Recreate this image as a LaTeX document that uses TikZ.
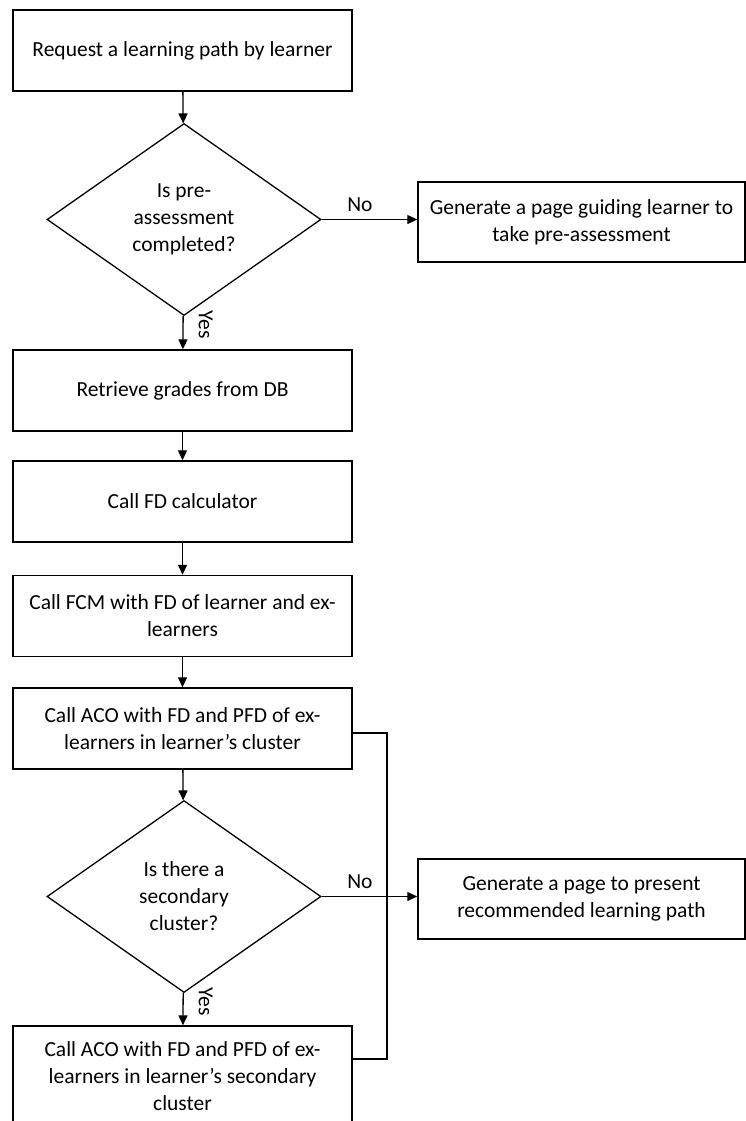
\documentclass[tikz,border=0pt]{standalone}
\usepackage{fontspec}
\setmainfont{Carlito}
\usetikzlibrary{shapes.geometric,arrows.meta}
\begin{document}
\begin{tikzpicture}[x=1pt,y=-1pt,
  txt/.style={font=\fontsize{21.5}{27}\selectfont},
  box/.style={txt,draw,line width=1.4pt,minimum width=339pt,minimum height=81pt,inner sep=0pt,align=center},
  sidebox/.style={box,minimum width=327pt,minimum height=80pt},
  decision/.style={txt,draw,diamond,line width=1.3pt,aspect=1.43,minimum width=274pt,minimum height=192pt,inner sep=0pt,align=center},
  flow/.style={line width=1.3pt,-{Triangle[length=10pt,width=9pt]}},
  plain/.style={line width=1.3pt},
  lbl/.style={txt,inner sep=0pt},
  yeslbl/.style={lbl,pos=0.27,xshift=15pt,rotate=-90,anchor=south}
]
\useasboundingbox (0,0) rectangle (746,1121);
\clip (0,0) rectangle (746,1121);

% main column
\node[box] (b1) at (182.5,50.5) {Request a learning path by learner};
\node[decision] (d1) at (184,219.5) {Is pre-\\assessment\\completed?};
\node[box] (b2) at (182.5,390.5) {Retrieve grades from DB};
\node[box] (b3) at (182.5,501.5) {Call FD calculator};
\node[box] (b4) at (182.5,616) {Call FCM with FD of learner and ex-\\learners};
\node[box] (b5) at (182.5,728.5) {Call ACO with FD and PFD of ex-\\learners in learner’s cluster};
\node[decision] (d2) at (184,896.5) {Is there a\\secondary\\cluster?};
\node[box,minimum height=100pt] (b6) at (182.5,1076) {Call ACO with FD and PFD of ex-\\learners in learner’s secondary\\cluster};

% side column
\node[sidebox] (r1) at (581.5,222) {Generate a page guiding learner to\\take pre-assessment};
\node[sidebox] (r2) at (581.5,899) {Generate a page to present\\recommended learning path};

% connectors
\draw[flow] (b1) -- (d1);
\draw[flow] (d1) -- (b2) node[yeslbl] {Yes};
\draw[flow] (b2) -- (b3);
\draw[flow] (b3) -- (b4);
\draw[flow] (b4) -- (b5);
\draw[flow] (b5) -- (d2);
\draw[flow] (d2) -- (b6) node[yeslbl] {Yes};
\draw[flow] (d1.east) -- (d1.east -| r1.west) node[lbl,pos=0.4,above=7pt] {No};

\coordinate (j) at (387,896.5);
\draw[flow] (d2.east) -- (d2.east -| r2.west) node[lbl,pos=0.4,above=7pt] {No};
\draw[plain] ([yshift=-4.5pt]b5.east) -| (j);
\draw[plain] ([yshift=17pt]b6.east) -| (j);
\end{tikzpicture}
\end{document}
